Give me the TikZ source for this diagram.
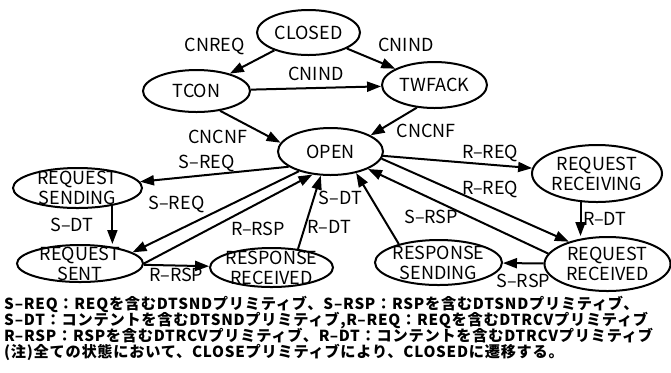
\documentclass[tikz,border=0pt]{standalone}
\usepackage{fontspec}
\setmainfont{Noto Sans CJK JP}
\newfontfamily\legendfont[LetterSpace=5,Ligatures=TeX]{Noto Sans CJK JP}
\usetikzlibrary{arrows.meta,shapes.geometric,positioning}

\tikzset{
  state/.style={ellipse,draw,line width=1pt,inner sep=-5pt,align=center,
    font=\fontsize{9}{10}\selectfont},
  lbl/.style={font=\fontsize{9}{10}\selectfont,inner sep=1pt},
}

\begin{document}
\begin{tikzpicture}[x=0.5pt,y=-0.5pt,>={Triangle[length=7pt,width=5pt]},line width=1pt]
\useasboundingbox (0,0) rectangle (671,372);

% states
\node[state,minimum width=51.5pt,minimum height=22.5pt] (closed) at (308.5,32.5) {CLOSED};
\node[state,minimum width=53.5pt,minimum height=21pt] (tcon) at (196.5,91) {TCON};
\node[state,minimum width=52.5pt,minimum height=23pt] (twfack) at (434.5,85) {TWFACK};
\node[state,minimum width=52.5pt,minimum height=23.5pt] (open) at (330.5,151.5) {OPEN};
\node[state,minimum width=64.5pt,minimum height=20pt] (reqsending) at (77.5,188) {REQUEST\\SENDING};
\node[state,minimum width=63pt,minimum height=18.5pt] (reqsent) at (80,263.5) {REQUEST\\SENT};
\node[state,minimum width=61.5pt,minimum height=19.5pt] (resprecv) at (271.5,267.5) {RESPONSE\\RECEIVED};
\node[state,minimum width=63.5pt,minimum height=22.5pt] (respsend) at (438.5,262.5) {RESPONSE\\SENDING};
\node[state,minimum width=65pt,minimum height=28.5pt] (reqrecving) at (597,173.5) {REQUEST\\RECEIVING};
\node[state,minimum width=63pt,minimum height=27pt] (reqrecved) at (607.5,264) {REQUEST\\RECEIVED};

% connection setup
\draw[->] (closed) -- (tcon) node[lbl,midway,above left=3pt] {CNREQ};
\draw[->] (closed) -- (twfack) node[lbl,midway,above right=3pt] {CNIND};
\draw[->] (tcon) -- (twfack) node[lbl,midway,above=2pt] {CNIND};
\draw[->] (tcon.-40) -- (open.170) node[lbl,midway,below left] {CNCNF};
\draw[->] (twfack.232) -- (open.22) node[lbl,midway,below right] {CNCNF};

% sending side
\draw[->] (open.200) -- (reqsending) node[lbl,pos=.55,above] {S--REQ};
\draw[->] (reqsending.-27) -- (reqsending.-27 |- reqsent.north)
    node[lbl,midway,left=8pt] {S--DT};
\draw[->] (open.212) -- (reqsent.12) node[lbl,pos=.55,above left] {S--REQ};
\draw[->] (reqsent.east) -- (open.232) node[lbl,midway,below right] {R--RSP};
\draw[->] (reqsent) -- (resprecv) node[lbl,midway,below] {R--RSP};
\draw[->] (resprecv.35) -- (open.248) node[lbl,pos=.3,right] {R--DT};

% receiving side
\draw[->] (respsend.155) -- (open.-40) node[lbl,pos=.65,left=3pt] {S--DT};
\draw[->] (open) -- (reqrecving) node[lbl,pos=.72,above] {R--REQ};
\draw[->] (open.-8) -- (reqrecved.150) node[lbl,pos=.58,above=3pt] {R--REQ};
\draw[->] (reqrecved.170) -- (open.-25) node[lbl,pos=.65,below=4pt] {S--RSP};
\draw[->] (reqrecving.-120) -- (reqrecving.-120 |- reqrecved.north)
    node[lbl,midway,right] {R--DT};
\draw[->] (reqrecved) -- (respsend) node[lbl,midway,below=4pt] {S--RSP};

% primitive legend
\node[anchor=north west,inner sep=0pt,align=left,
  font={\legendfont\fontsize{7.6}{8}\selectfont\bfseries\lineskiplimit=-5pt}] (legend) at (3,295)
  {S--REQ：REQを含むDTSNDプリミティブ、S--RSP：RSPを含むDTSNDプリミティブ、\\
   S--DT：コンテントを含むDTSNDプリミティブ,R--REQ：REQを含むDTRCVプリミティブ\\
   R--RSP：RSPを含むDTRCVプリミティブ、R--DT：コンテントを含むDTRCVプリミティブ\\
   (注)全ての状態において、CLOSEプリミティブにより、CLOSEDに遷移する。};
\end{tikzpicture}
\end{document}
